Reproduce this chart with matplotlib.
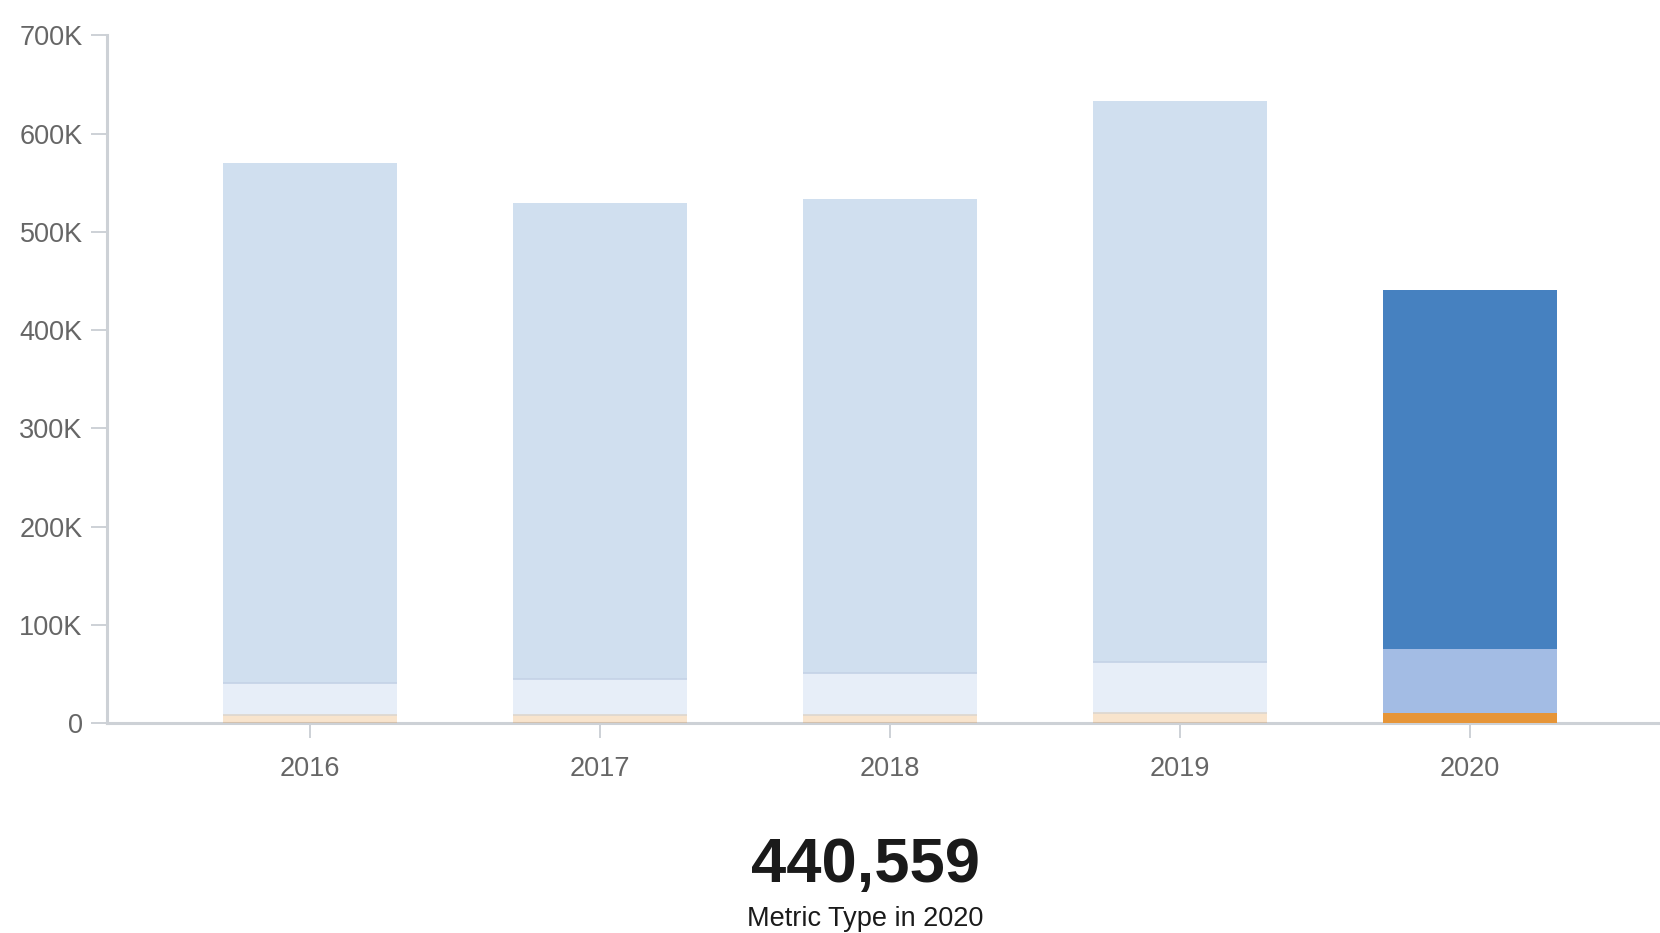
import matplotlib
matplotlib.use("Agg")
import matplotlib.pyplot as plt
from matplotlib.ticker import FuncFormatter

years = ["2016", "2017", "2018", "2019", "2020"]
series_names = ["Type A", "Type B", "Type C"]
bottom_vals = [8100, 8100, 8100, 10500, 10500]       # orange
middle_vals = [32600, 36700, 42800, 52200, 65100]    # light blue
top_vals = [529300, 484500, 482500, 570300, 364959]  # blue
highlight_year = "2020"

colors = ["#E69538", "#A3BCE4", "#4681C0"]
line_colors = ["#DDD6CF", "#C4D2E6", None]

plt.rcParams['font.family'] = ['Liberation Sans', 'DejaVu Sans']

fig = plt.figure(figsize=(16.6, 9.33), dpi=100)
ax = fig.add_axes([107/1660, 1 - 723.3/933, 1 - 107/1660, (723.3 - 35.3)/933])

x = list(range(len(years)))
width = 0.6
stacks = [bottom_vals, middle_vals, top_vals]
for i, yr in enumerate(years):
    base = 0
    hl = (yr == highlight_year)
    for s, vals in enumerate(stacks):
        ax.bar(x[i], vals[i], width=width, bottom=base, color=colors[s],
               alpha=1.0 if hl else 0.25, zorder=3, linewidth=0)
        top = base + vals[i]
        if not hl and line_colors[s] is not None:
            ax.hlines(top, x[i] - width/2, x[i] + width/2, color=line_colors[s],
                      linewidth=1.2, zorder=4)
        base = top

ax.set_xlim(-0.7, 4.655)
ax.set_ylim(0, 700000)
ax.set_yticks(range(0, 700001, 100000))
ax.yaxis.set_major_formatter(FuncFormatter(lambda v, p: "0" if v == 0 else f"{int(v/1000)}K"))
ax.set_xticks(x)
ax.set_xticklabels(years)

for side in ["top", "right"]:
    ax.spines[side].set_visible(False)
axis_color = "#CDD1D6"
for side in ["left", "bottom"]:
    ax.spines[side].set_color(axis_color)
    ax.spines[side].set_linewidth(2.2)
    ax.spines[side].set_zorder(2)

ax.tick_params(axis="y", length=11.5, width=1.4, color=axis_color, pad=6,
               labelsize=19.5, labelcolor="#666666")
ax.tick_params(axis="x", length=10.5, width=1.4, color=axis_color, pad=13,
               labelsize=19.5, labelcolor="#666666")

total_2020 = bottom_vals[-1] + middle_vals[-1] + top_vals[-1]
fig.text(865/1660, 1 - 866/933, f"{total_2020:,}", ha="center", va="center",
         fontsize=45.5, fontweight="bold", color="#1a1a1a")
fig.text(865/1660, 1 - 919/933, f"Metric Type in {highlight_year}", ha="center",
         va="center", fontsize=19.5, color="#1a1a1a")

fig.savefig("out.png", dpi=100)
